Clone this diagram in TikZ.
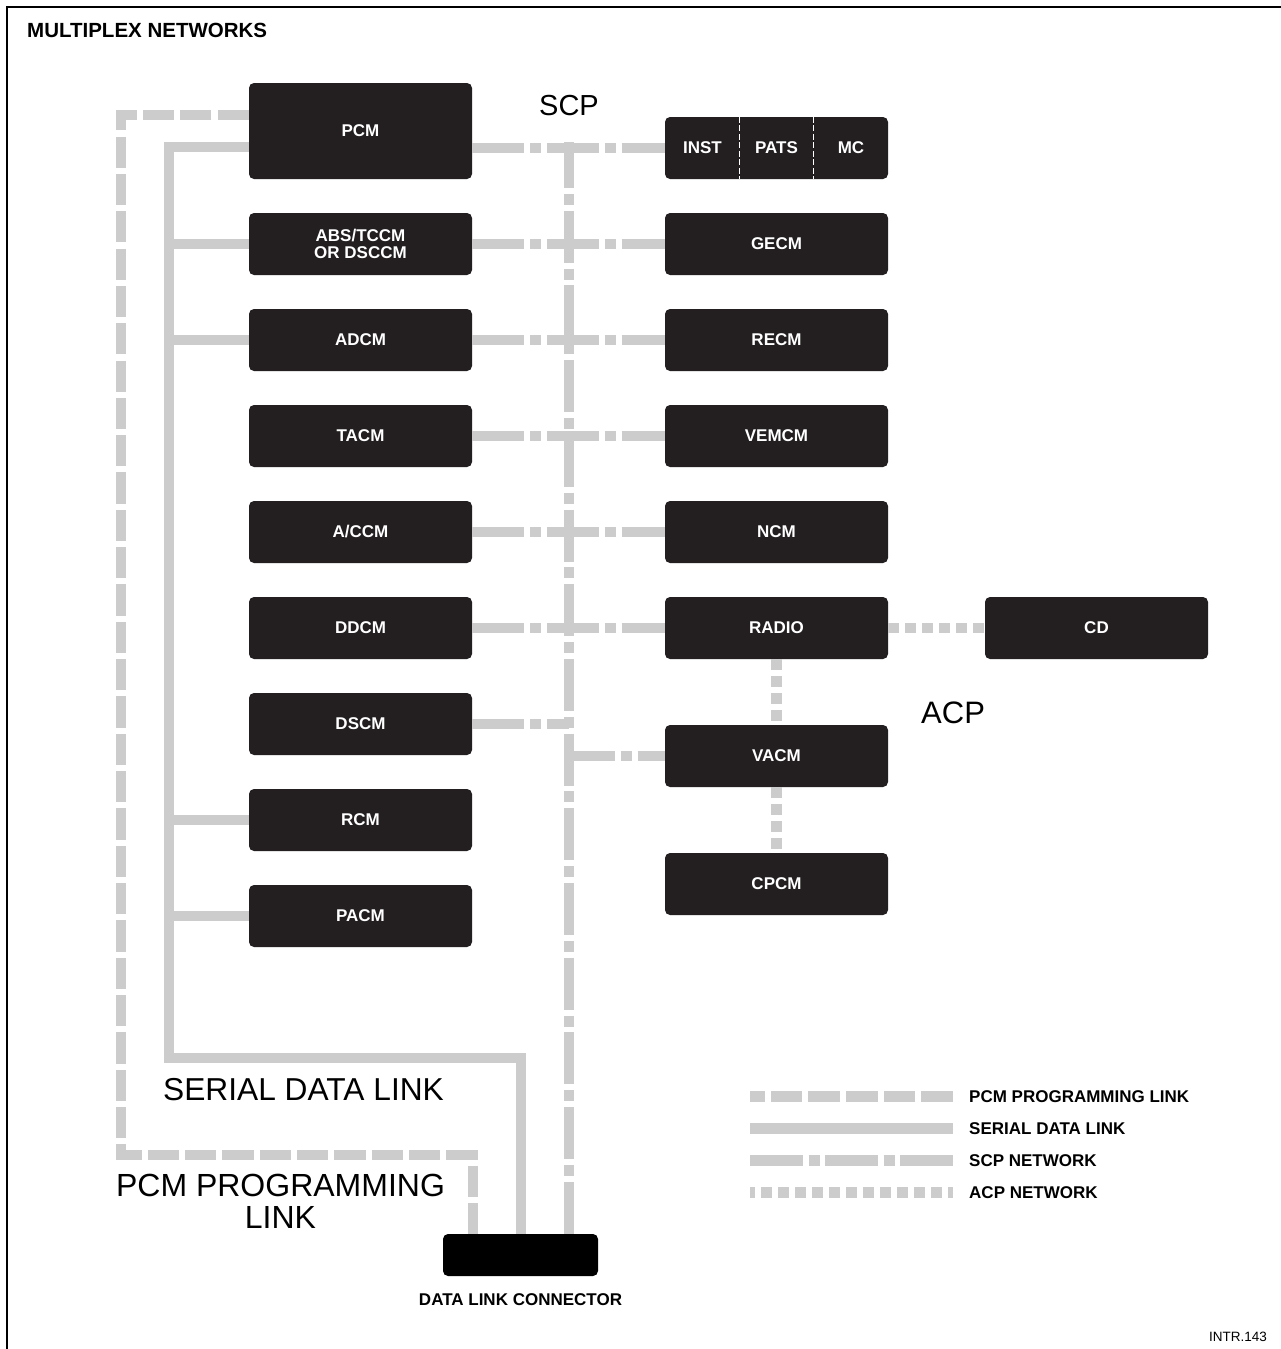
\documentclass[tikz,border=0pt]{standalone}
\usepackage{fontspec}
\setmainfont{Liberation Sans}
\usetikzlibrary{calc}
\definecolor{linec}{HTML}{CCCCCC}
\definecolor{boxc}{HTML}{231F20}
\newcommand\boxfnt{\fontsize{17}{17}\selectfont\bfseries}
\newcommand\bigfnt{\fontsize{32}{32}\selectfont}
\tikzset{
  link/.style={line width=10.5, draw=linec, line join=miter},
  prog/.style={link, dash pattern=on 31.3 off 6.03},
  serial/.style={link},
  scp/.style={link, dash pattern=on 52 off 5.85 on 11 off 5.85},
  acp/.style={link, dash pattern=on 11 off 6},
  box/.style={fill=boxc, rounded corners=5, minimum width=223, minimum height=62, inner sep=0, text=white, font=\boxfnt, align=center},
  boxtext/.style={inner sep=0, text=white, font=\boxfnt},
  biglabel/.style={inner sep=0, font=\bigfnt},
  legtext/.style={inner sep=0, anchor=base west, font=\boxfnt},
  divider/.style={draw=white, line width=1, dash pattern=on 6 off 2.5},
}
\begin{document}
\begin{tikzpicture}[x=1pt,y=-1pt]
\useasboundingbox (0,0) rectangle (1281,1349);
\fill[white] (0,0) rectangle (1281,1349);
\draw[line width=2, line join=miter] (7,1349) -- (7,7) -- (1281,7);
\node[anchor=base west, inner sep=0, font=\fontsize{20.5}{20.5}\selectfont\bfseries] (title) at (27,37) {MULTIPLEX NETWORKS};

% left column
\node[box, minimum height=96] (pcm) at (360.5,131) {PCM};
\node[box] (abs) at (360.5,244) {ABS/TCCM\\OR DSCCM};
\node[box] (adcm) at (360.5,340) {ADCM};
\node[box] (tacm) at (360.5,436) {TACM};
\node[box] (accm) at (360.5,532) {A/CCM};
\node[box] (ddcm) at (360.5,628) {DDCM};
\node[box] (dscm) at (360.5,724) {DSCM};
\node[box] (rcm) at (360.5,820) {RCM};
\node[box] (pacm) at (360.5,916) {PACM};

% right column
\node[box] (inst) at (776.5,148) {};
\node[boxtext] (instt) at (702.5,148) {INST};
\node[boxtext] (pats) at (776.5,148) {PATS};
\node[boxtext] (mc) at (851,148) {MC};
\draw[divider] ($(inst.north west)!1/3!(inst.north east)$) -- ($(inst.south west)!1/3!(inst.south east)$);
\draw[divider] ($(inst.north west)!2/3!(inst.north east)$) -- ($(inst.south west)!2/3!(inst.south east)$);
\node[box] (gecm) at (776.5,244) {GECM};
\node[box] (recm) at (776.5,340) {RECM};
\node[box] (vemcm) at (776.5,436) {VEMCM};
\node[box] (ncm) at (776.5,532) {NCM};
\node[box] (radio) at (776.5,628) {RADIO};
\node[box] (vacm) at (776.5,756) {VACM};
\node[box] (cpcm) at (776.5,884) {CPCM};
\node[box] (cd) at (1096.5,628) {CD};

% data link connector
\node[fill=black, rounded corners=5, minimum width=155, minimum height=42, inner sep=0] (dlc) at (520.5,1255) {};
\node[anchor=base, inner sep=0, font=\boxfnt] (dlct) at (520.5,1305) {DATA LINK CONNECTOR};

% coordinates for bends
\coordinate (b1) at (121,115);
\coordinate (b2) at (121,1155);
\coordinate (b3) at (473,1155);
\coordinate (a1) at (169,147);
\coordinate (a2) at (169,1058);
\coordinate (a3) at (521,1058);
\coordinate (s0) at (569,142);

% PCM programming link
\draw[prog] (pcm.west |- b1) -- (b1) -- (b2) -- (b3) -- (b3 |- dlc.north);

% serial data link
\draw[serial] (pcm.west |- a1) -- (a1) -- (a2) -- (a3) -- (a3 |- dlc.north);
\draw[serial] (a1 |- abs.west) -- (abs.west);
\draw[serial] (a1 |- adcm.west) -- (adcm.west);
\draw[serial] (a1 |- rcm.west) -- (rcm.west);
\draw[serial] (a1 |- pacm.west) -- (pacm.west);

% SCP network
\draw[scp, dash phase=6] (s0) -- (s0 |- dlc.north);
\draw[scp] (inst.west -| pcm.east) -- (inst.west);
\draw[scp] (abs.east) -- (gecm.west);
\draw[scp] (adcm.east) -- (recm.west);
\draw[scp] (tacm.east) -- (vemcm.west);
\draw[scp] (accm.east) -- (ncm.west);
\draw[scp] (ddcm.east) -- (radio.west);
\draw[scp] (dscm.east) -- (s0 |- dscm.east);
\draw[scp, dash phase=6] (s0 |- vacm.west) -- (vacm.west);

% ACP network
\draw[acp] (radio.east) -- (cd.west);
\draw[acp] (radio.south) -- (vacm.north);
\draw[acp] (vacm.south) -- (cpcm.north);

% labels
\node[anchor=base, inner sep=0, font=\fontsize{29}{29}\selectfont] (scpl) at (569,115) {SCP};
\node[anchor=base west, inner sep=0, font=\fontsize{31}{31}\selectfont] (acpl) at (921,723) {ACP};
\node[biglabel, anchor=base west, font=\fontsize{31.7}{31.7}\selectfont] (sdl) at (163,1100) {SERIAL DATA LINK};
\node[biglabel, anchor=north, align=center] (ppl) at (280.5,1174) {PCM PROGRAMMING\\LINK};

% legend
\coordinate (l1a) at (750,1096.5); \coordinate (l1b) at (953,1096.5);
\coordinate (l2a) at (750,1128.5); \coordinate (l2b) at (953,1128.5);
\coordinate (l3a) at (750,1160.5); \coordinate (l3b) at (953,1160.5);
\coordinate (l4a) at (750,1192.5); \coordinate (l4b) at (953,1192.5);
\draw[link, dash pattern=on 31.7 off 6] (l1b) -- (l1a);
\draw[serial] (l2a) -- (l2b);
\draw[link, dash pattern=on 53 off 5.5 on 11 off 5.5] (l3a) -- (l3b);
\draw[acp, dash phase=6] (l4a) -- (l4b);
\node[legtext] (lt1) at (969,1102.5) {PCM PROGRAMMING LINK};
\node[legtext] (lt2) at (969,1134.5) {SERIAL DATA LINK};
\node[legtext] (lt3) at (969,1166.5) {SCP NETWORK};
\node[legtext] (lt4) at (969,1198.5) {ACP NETWORK};

\node[anchor=base west, inner sep=0, font=\fontsize{13.5}{13.5}\selectfont] (ref) at (1209,1341) {INTR.143};
\end{tikzpicture}
\end{document}
